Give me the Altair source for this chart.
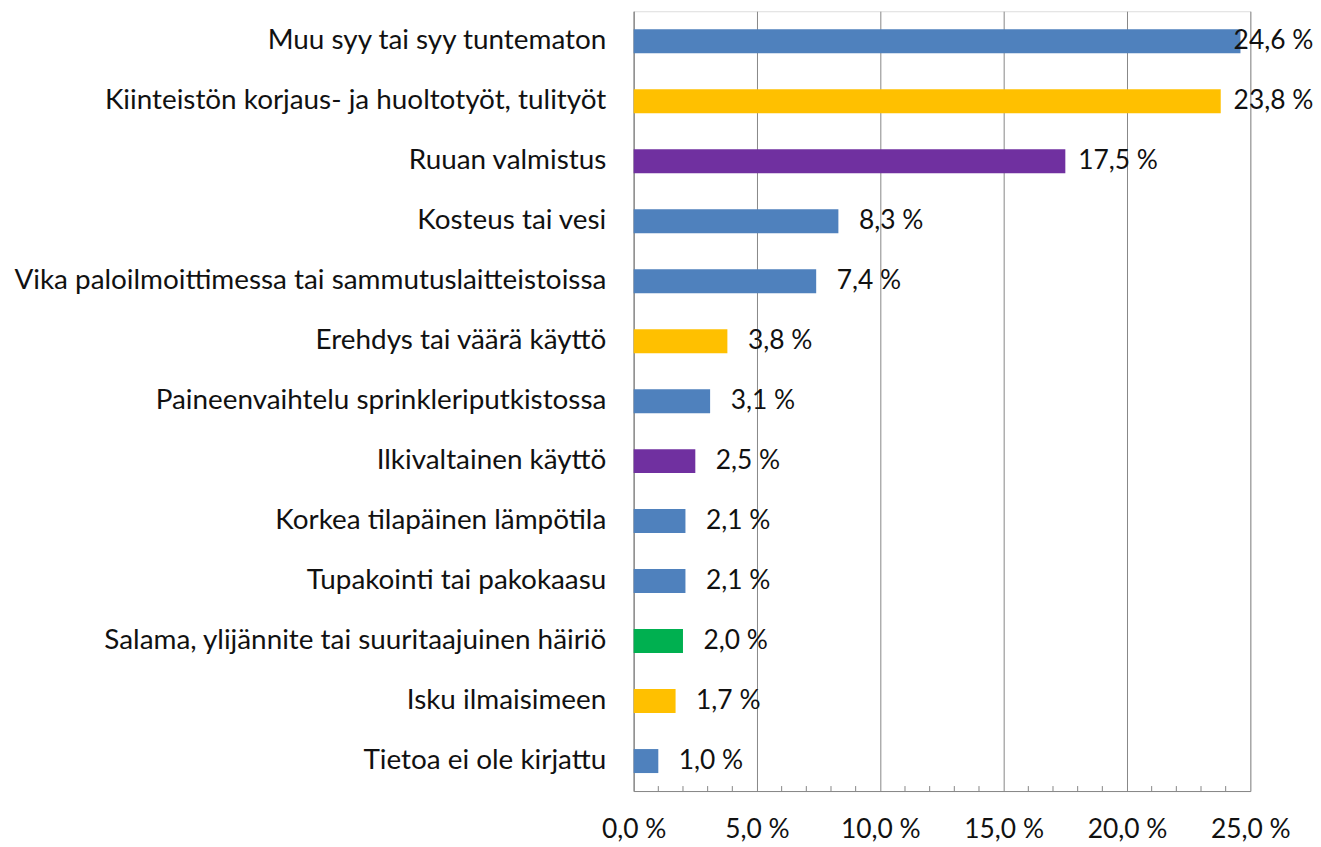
import altair as alt
import pandas as pd

categories = [
    "Muu syy tai syy tuntematon",
    "Kiinteistön korjaus- ja huoltotyöt, tulityöt",
    "Ruuan valmistus",
    "Kosteus tai vesi",
    "Vika paloilmoittimessa tai sammutuslaitteistoissa",
    "Erehdys tai väärä käyttö",
    "Paineenvaihtelu sprinkleriputkistossa",
    "Ilkivaltainen käyttö",
    "Korkea tilapäinen lämpötila",
    "Tupakointi tai pakokaasu",
    "Salama, ylijännite tai suuritaajuinen häiriö",
    "Isku ilmaisimeen",
    "Tietoa ei ole kirjattu",
]
values = [24.6, 23.8, 17.5, 8.3, 7.4, 3.8, 3.1, 2.5, 2.1, 2.1, 2.0, 1.7, 1.0]
colors = ["#4F81BD", "#FFC000", "#7030A0", "#4F81BD", "#4F81BD", "#FFC000",
          "#4F81BD", "#7030A0", "#4F81BD", "#4F81BD", "#00B050", "#FFC000",
          "#4F81BD"]
x_ticks = [0, 5, 10, 15, 20, 25]
minor_ticks = [v for v in range(1, 25) if v % 5 != 0]

df = pd.DataFrame({"cat": categories, "v": values, "color": colors})
df_minor = pd.DataFrame({"m": minor_ticks})

FONT = "Lato"
W, H = 620, 784

xscale = alt.Scale(domain=[0, 25], nice=False, zero=True)
yscale = alt.Scale(domain=categories, paddingInner=0.6, paddingOuter=0.3)
fmt = "replace(format(datum.value, '.1f'), '.', ',') + ' %'"

bars = alt.Chart(df).mark_bar().encode(
    x=alt.X("v:Q", scale=xscale,
            axis=alt.Axis(values=x_ticks, title=None, grid=True, gridColor="#868686",
                          gridWidth=1, ticks=False, domain=True, domainColor="#868686",
                          labelExpr=fmt, labelFont=FONT, labelFontSize=26.5,
                          labelColor="#111111", labelPadding=26, labelFlush=False)),
    y=alt.Y("cat:N", scale=yscale, sort=categories,
            axis=alt.Axis(title=None, ticks=False, domain=True, domainColor="#868686",
                          labelFont=FONT, labelFontSize=28, labelColor="#111111",
                          labelPadding=28, labelLimit=700)),
    color=alt.Color("color:N", scale=None),
)

labels = alt.Chart(df).transform_calculate(
    lx="min(datum.v, 23.8)",
    txt="replace(format(datum.v, '.1f'), '.', ',') + ' %'",
).mark_text(align="center", baseline="middle", dx=53, font=FONT, fontSize=26.5,
            color="#111111").encode(
    x=alt.X("lx:Q", scale=xscale),
    y=alt.Y("cat:N", scale=yscale, sort=categories),
    text="txt:N",
)

minor = alt.Chart(df_minor).mark_rule(color="#868686", strokeWidth=1).encode(
    x=alt.X("m:Q", scale=xscale),
    y=alt.value(H - 5),
    y2=alt.value(H),
)

chart = alt.layer(bars, minor, labels).properties(
    width=W, height=H,
    autosize=alt.AutoSizeParams(type="none"),
    padding={"left": 629, "top": 1, "right": 63, "bottom": 53},
).configure_view(stroke=None).configure(background="white")

chart.save("out.html", embed_options={"renderer": "svg", "actions": False})
